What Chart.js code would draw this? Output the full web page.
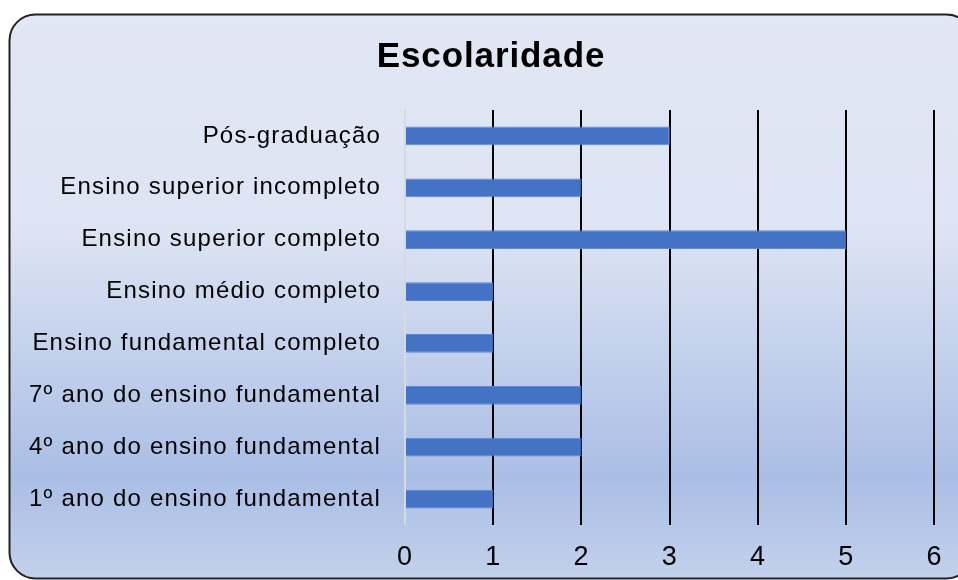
<!DOCTYPE html>
<html lang="pt">
<head>
  <meta charset="UTF-8">
  <title>Escolaridade</title>
  <script src="https://cdn.jsdelivr.net/npm/chart.js"></script>
  <style>
    html, body { margin: 0; padding: 0; background: #fff; }
    #wrap { width: 958px; height: 580px; }
  </style>
</head>
<body>
  <div id="wrap">
    <canvas id="escolaridadeChart" width="958" height="580"></canvas>
  </div>

  <script>
    const chartTitle = "Escolaridade";
    const categories = [
      "Pós-graduação",
      "Ensino superior incompleto",
      "Ensino superior completo",
      "Ensino médio completo",
      "Ensino fundamental completo",
      "7º ano do ensino fundamental",
      "4º ano do ensino fundamental",
      "1º ano do ensino fundamental"
    ];
    const counts = [3, 2, 5, 1, 1, 2, 2, 1];

    // rounded gradient panel behind the chart, plus the title
    const panelPlugin = {
      id: "panel",
      beforeDraw(chart) {
        const { ctx } = chart;
        ctx.save();
        const grad = ctx.createLinearGradient(0, 14, 0, 578);
        grad.addColorStop(0, "#E1E7F4");
        grad.addColorStop(0.38, "#DDE4F3");
        grad.addColorStop(0.82, "#AABEE5");
        grad.addColorStop(1, "#C2D1EC");
        ctx.beginPath();
        ctx.roundRect(9.5, 14.5, 963, 564, 26);
        ctx.fillStyle = grad;
        ctx.fill();
        ctx.lineWidth = 2;
        ctx.strokeStyle = "#222";
        ctx.stroke();

        ctx.letterSpacing = "0.9px";
        ctx.font = "bold 35px 'Liberation Sans', Arial, sans-serif";
        ctx.fillStyle = "#000";
        ctx.textAlign = "center";
        ctx.textBaseline = "middle";
        ctx.fillText(chartTitle, 491, 57);
        ctx.restore();
        // the labels in the picture are slightly spaced out
        ctx.letterSpacing = "1.2px";
      },
      afterDraw(chart) {
        chart.ctx.letterSpacing = "0px";
      }
    };

    const ctx = document.getElementById("escolaridadeChart").getContext("2d");
    new Chart(ctx, {
      type: "bar",
      data: {
        labels: categories,
        datasets: [{
          label: chartTitle,
          data: counts,
          backgroundColor: "#4472C4",
          borderColor: "#5F86CE",
          borderWidth: 1,
          categoryPercentage: 1,
          barPercentage: 0.36
        }]
      },
      plugins: [panelPlugin],
      options: {
        indexAxis: "y",
        responsive: false,
        animation: false,
        layout: { padding: { left: 0, top: 110, right: 21, bottom: 0 } },
        plugins: {
          legend: { display: false },
          title: { display: false },
          tooltip: { enabled: false }
        },
        scales: {
          x: {
            min: 0,
            max: 6,
            ticks: {
              stepSize: 1,
              padding: 16,
              color: "#000",
              font: { family: "'Liberation Sans', Arial, sans-serif", size: 27 }
            },
            grid: {
              drawTicks: false,
              lineWidth: 2,
              color: (c) => (c.index === 0 ? "#D6D9DE" : "#000")
            },
            border: { display: false },
            afterFit(scale) { scale.height = 55; }
          },
          y: {
            ticks: {
              padding: 24,
              color: "#000",
              font: { family: "'Liberation Sans', Arial, sans-serif", size: 24 }
            },
            grid: { display: false, drawTicks: false },
            border: { display: false },
            afterFit(scale) { scale.width = 405; }
          }
        }
      }
    });
  </script>
</body>
</html>
